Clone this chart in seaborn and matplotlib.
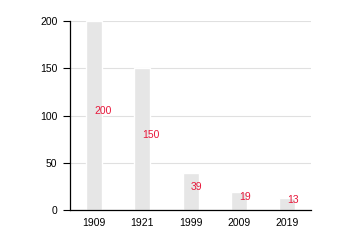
import matplotlib
matplotlib.use("Agg")
import matplotlib.pyplot as plt
import seaborn as sns
import pandas as pd

years = ["1909", "1921", "1999", "2009", "2019"]
values = [200, 150, 39, 19, 13]

sns.set_style("white")
plt.rcParams['font.family'] = ['Liberation Sans', 'DejaVu Sans']

df = pd.DataFrame({"year": years, "value": values})

fig = plt.figure(figsize=(3.5, 2.5), dpi=100)
ax = fig.add_axes([0.2, 0.16, 0.689, 0.756])
sns.barplot(data=df, x="year", y="value", color="#e6e6e6", width=0.33,
            saturation=1, ax=ax, zorder=2)
ax.set_ylim(0, 200)
ax.set_xlim(-0.5, 4.5)
ax.set_yticks([0, 50, 100, 150, 200])
ax.yaxis.grid(True, color="#e0e0e0", linewidth=0.8, zorder=0)
ax.set_axisbelow(True)
ax.set_xlabel("")
ax.set_ylabel("")
for s in ["top", "right"]:
    ax.spines[s].set_visible(False)
for s in ["left", "bottom"]:
    ax.spines[s].set_color("black")
    ax.spines[s].set_linewidth(0.9)
ax.tick_params(axis="y", left=True, length=5, width=0.8, labelsize=7.5, colors="black", pad=4)
ax.tick_params(axis="x", bottom=False, labelsize=7.5, colors="black", pad=2)

for i, v in enumerate(values):
    ax.annotate(str(v), (i, v / 2), xytext=(0, 3), textcoords="offset points",
                ha="left", va="center", color="#e8173a", fontsize=7.5, zorder=3)

fig.savefig("out.png", dpi=100)
